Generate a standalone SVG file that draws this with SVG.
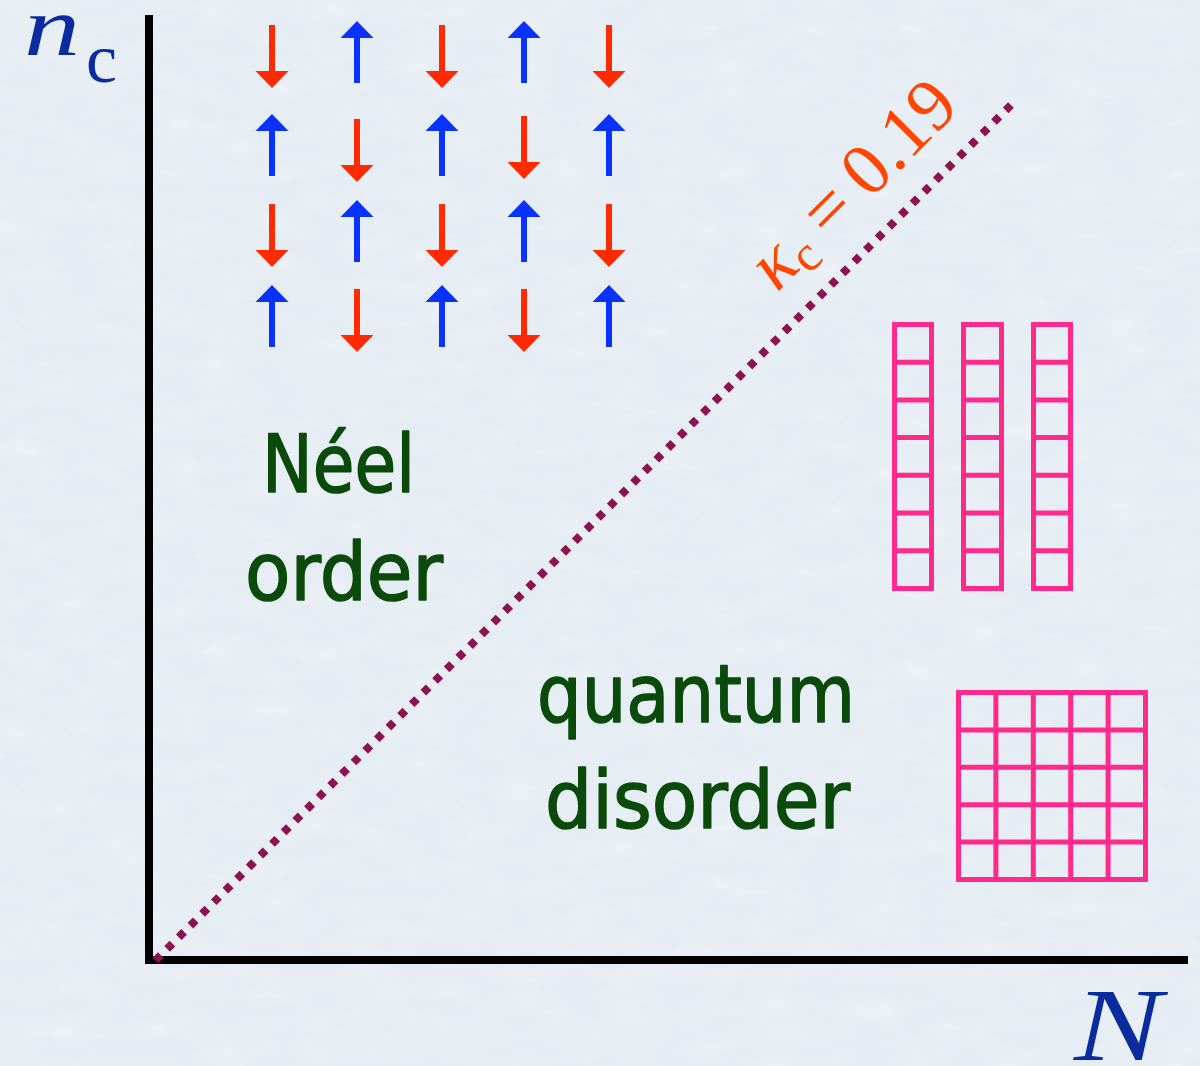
<svg xmlns="http://www.w3.org/2000/svg" xmlns:xlink="http://www.w3.org/1999/xlink" width="1200" height="1066" viewBox="0 0 1200 1066">
<defs>
<filter id="paper" x="0" y="0" width="100%" height="100%">
<feTurbulence type="fractalNoise" baseFrequency="0.02 0.05" numOctaves="3" seed="4" result="n"/>
<feColorMatrix in="n" type="matrix" values="0 0 0 0 1  0 0 0 0 1  0 0 0 0 1  0 0 0 -0.9 0.55" />
</filter>
<path id="down" d="M-3,0 H3 V46 H16.5 L0,63 L-16.5,46 H-3 Z" fill="#FF2A00"/>
<path id="up" d="M0,0 L16.5,17 H3 V62 H-3 V17 H-16.5 Z" fill="#0A32FF"/>
</defs>
<style>
.axis{stroke:#000;stroke-width:8;fill:none}
.grid{stroke:#FF2A8C;stroke-width:5;fill:none}
.lbl{font-family:"DejaVu Sans","Open Sans",sans-serif;fill:#0A4A0A;stroke:#0A4A0A;stroke-width:1.6;stroke-linejoin:round;font-size:80px}
.math{font-family:"Liberation Serif","DejaVu Serif",serif}
</style>
<rect x="0" y="0" width="1200" height="1066" fill="#E5ECF3"/>
<rect x="0" y="0" width="1200" height="1066" filter="url(#paper)" opacity="0.6"/>

<g id="axes">
<line class="axis" x1="149" y1="15" x2="149" y2="964"/>
<line class="axis" x1="145" y1="960" x2="1188" y2="960"/>
<text class="math" x="24" y="55" font-size="84" font-style="italic" fill="#0B2C9E" textLength="56" lengthAdjust="spacingAndGlyphs">n</text>
<text class="math" x="86" y="82" font-size="70" fill="#0B2C9E">c</text>
<text class="math" x="1074" y="1060" font-size="104" font-style="italic" fill="#0B2C9E" textLength="88" lengthAdjust="spacingAndGlyphs">N</text>
</g>

<g id="connectors">
<line x1="155.5" y1="960.5" x2="1016" y2="100" stroke="#8A1450" stroke-width="8" stroke-dasharray="7.5 8.97"/>
<text class="math" transform="translate(777,293) rotate(-45)" font-size="74" fill="#FF4500"><tspan font-style="italic">κ</tspan><tspan font-size="50" dy="10">c</tspan><tspan dy="-10" dx="16">=</tspan><tspan dx="16">0.19</tspan></text>
</g>

<g id="spins">
<use xlink:href="#down" x="272" y="25"/><use xlink:href="#up" x="357" y="21"/><use xlink:href="#down" x="442" y="25"/><use xlink:href="#up" x="524" y="21"/><use xlink:href="#down" x="609" y="25"/>
<use xlink:href="#up" x="272" y="114"/><use xlink:href="#down" x="357" y="119"/><use xlink:href="#up" x="442" y="114"/><use xlink:href="#down" x="524" y="116"/><use xlink:href="#up" x="609" y="114"/>
<use xlink:href="#down" x="272" y="204"/><use xlink:href="#up" x="357" y="200"/><use xlink:href="#down" x="442" y="204"/><use xlink:href="#up" x="524" y="200"/><use xlink:href="#down" x="609" y="204"/>
<use xlink:href="#up" x="272" y="285"/><use xlink:href="#down" x="357" y="289"/><use xlink:href="#up" x="442" y="285"/><use xlink:href="#down" x="524" y="289"/><use xlink:href="#up" x="609" y="285"/>
</g>

<g id="neel-label">
<text class="lbl" x="262" y="492" textLength="153" lengthAdjust="spacingAndGlyphs">Néel</text>
<text class="lbl" x="245" y="600" textLength="198" lengthAdjust="spacingAndGlyphs">order</text>
</g>

<g id="disorder-label">
<text class="lbl" x="537" y="722" textLength="318" lengthAdjust="spacingAndGlyphs">quantum</text>
<text class="lbl" x="545" y="828" textLength="305" lengthAdjust="spacingAndGlyphs">disorder</text>
</g>

<g id="ladders">
<path class="grid" d="M894.5,324.5 H931.5 V588.5 H894.5 Z M894.5,362.2 H931.5 M894.5,399.9 H931.5 M894.5,437.6 H931.5 M894.5,475.3 H931.5 M894.5,513 H931.5 M894.5,550.8 H931.5"/>
<path class="grid" d="M963.5,324.5 H1001.5 V588.5 H963.5 Z M963.5,362.2 H1001.5 M963.5,399.9 H1001.5 M963.5,437.6 H1001.5 M963.5,475.3 H1001.5 M963.5,513 H1001.5 M963.5,550.8 H1001.5"/>
<path class="grid" d="M1033.5,324.5 H1070.5 V588.5 H1033.5 Z M1033.5,362.2 H1070.5 M1033.5,399.9 H1070.5 M1033.5,437.6 H1070.5 M1033.5,475.3 H1070.5 M1033.5,513 H1070.5 M1033.5,550.8 H1070.5"/>
</g>

<g id="square-lattice">
<path class="grid" d="M958.5,692.5 H1145.5 V879.5 H958.5 Z M958.5,729.9 H1145.5 M958.5,767.3 H1145.5 M958.5,804.7 H1145.5 M958.5,842.1 H1145.5 M995.9,692.5 V879.5 M1033.3,692.5 V879.5 M1070.7,692.5 V879.5 M1108.1,692.5 V879.5"/>
</g>
</svg>
